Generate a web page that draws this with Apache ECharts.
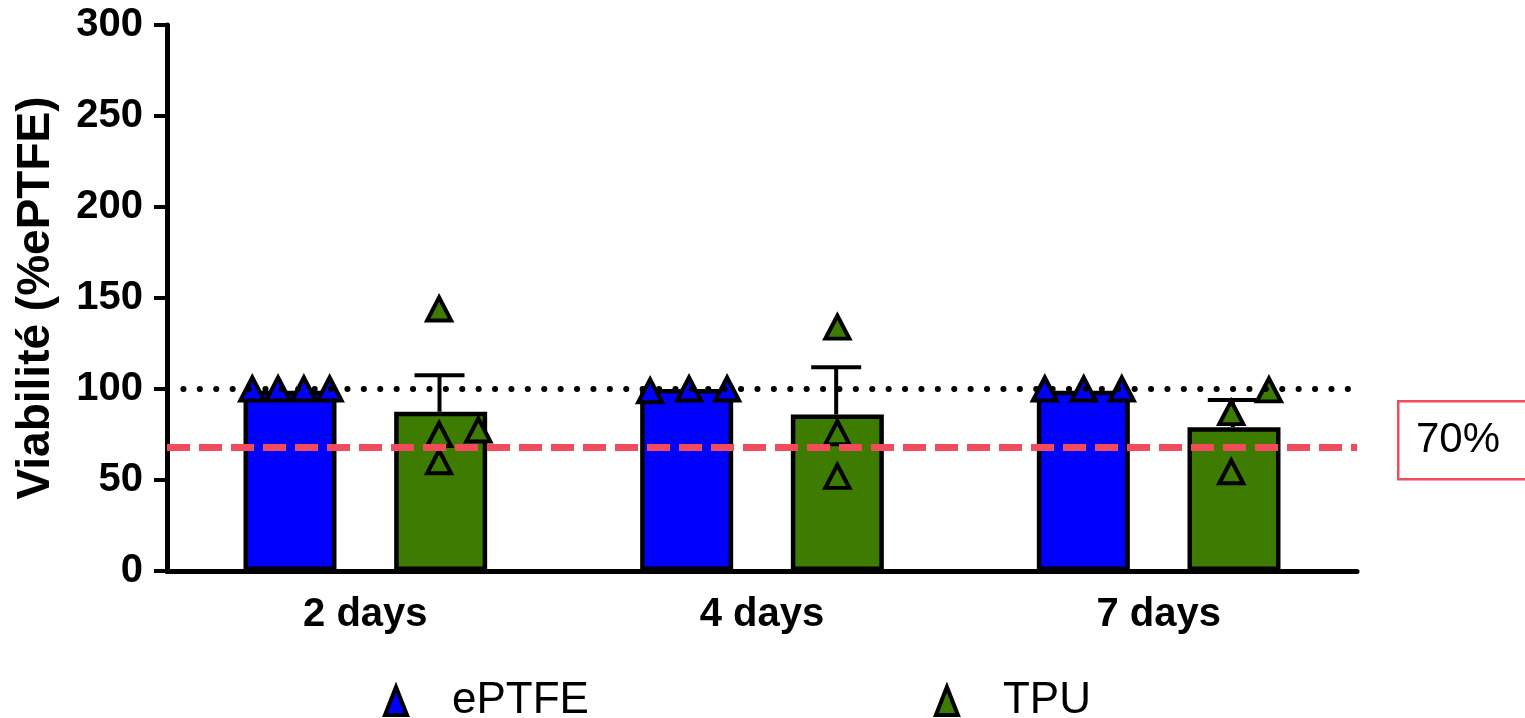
<!DOCTYPE html>
<html>
<head>
<meta charset="utf-8">
<script src="https://cdn.jsdelivr.net/npm/echarts@6/dist/echarts.min.js"></script>
<style>
  html, body { margin: 0; padding: 0; background: #fff; }
  #chart { width: 1525px; height: 718px; }
</style>
</head>
<body>
<div id="chart"></div>
<script>
var categories = ['2 days', '4 days', '7 days'];
var seriesNames = ['ePTFE', 'TPU'];
// bar heights (mean) and SEM
var eptfeMean = [99, 100, 99];
var tpuMean = [87.5, 86, 79];
var tpuSem = [20, 26, 15];
// individual replicates per category
var eptfePoints = [[100, 100, 100, 100], [99, 100, 100], [100, 100, 100]];
var tpuPoints = [[144, 75, 77.5, 60], [134, 76, 52], [87, 99.5, 54.5]];
// horizontal jitter of the replicates, as a fraction of a category
var eptfeJitter = [[-0.285, -0.22, -0.155, -0.09], [-0.282, -0.184, -0.088], [-0.287, -0.189, -0.093]];
var tpuJitter = [[0.186, 0.186, 0.285, 0.186], [0.19, 0.19, 0.19], [0.183, 0.278, 0.183]];
var yTicks = [0, 50, 100, 150, 200, 250, 300];
var refLine = 100;
var thresholdLine = 68;

var FONT = '"Liberation Sans", Arial, sans-serif';
var BLUE = '#0000ff';
var GREEN = '#3d7c00';
var RED = '#f34a5c';

function points(vals, jit) {
  var out = [];
  vals.forEach(function (arr, i) {
    arr.forEach(function (v, j) { out.push([i + 0.5 + jit[i][j], v]); });
  });
  return out;
}

var errData = tpuMean.map(function (m, i) { return [i + 0.5 + 0.187, m, tpuSem[i]]; });

var myChart = echarts.init(document.getElementById('chart'));
myChart.setOption({
  animation: false,
  grid: { left: 167, right: 168, top: 25, bottom: 147 },
  legend: {
    left: 378,
    top: 674,
    itemGap: 345,
    itemWidth: 22,
    itemHeight: 28,
    selectedMode: false,
    textStyle: { fontFamily: FONT, fontSize: 44, color: '#000', padding: [0, 0, 0, 40] },
    data: [
      { name: 'ePTFE', icon: 'triangle', itemStyle: { color: BLUE, borderColor: '#000', borderWidth: 4 } },
      { name: 'TPU', icon: 'triangle', itemStyle: { color: GREEN, borderColor: '#000', borderWidth: 4 } }
    ]
  },
  xAxis: [
    {
      type: 'category',
      data: categories,
      axisLine: { lineStyle: { color: '#000', width: 5 } },
      axisTick: { show: false },
      axisLabel: { color: '#000', fontFamily: FONT, fontWeight: 'bold', fontSize: 40, margin: 24 }
    },
    { type: 'value', min: 0, max: 3, show: false }
  ],
  yAxis: {
    type: 'value',
    min: yTicks[0],
    max: yTicks[yTicks.length - 1],
    interval: 50,
    name: 'Viabilité (%ePTFE)',
    nameLocation: 'middle',
    nameGap: 108,
    nameTextStyle: { color: '#000', fontFamily: FONT, fontWeight: 'bold', fontSize: 46 },
    splitLine: { show: false },
    axisLine: { show: true, lineStyle: { color: '#000', width: 5 } },
    axisTick: { show: true, length: 13, lineStyle: { color: '#000', width: 4 } },
    axisLabel: { color: '#000', fontFamily: FONT, fontWeight: 'bold', fontSize: 40, margin: 24 }
  },
  series: [
    {
      name: seriesNames[0],
      type: 'bar',
      data: eptfeMean,
      barWidth: 93,
      barGap: '62%',
      itemStyle: { color: BLUE, borderColor: '#000', borderWidth: 4.5 }
    },
    {
      name: seriesNames[1],
      type: 'bar',
      data: tpuMean,
      barWidth: 93,
      barGap: '62%',
      itemStyle: { color: GREEN, borderColor: '#000', borderWidth: 4.5 }
    },
    {
      name: 'SEM',
      type: 'custom',
      xAxisIndex: 1,
      data: errData,
      z: 3,
      renderItem: function (params, api) {
        var x = api.value(0), m = api.value(1), e = api.value(2);
        var base = api.coord([x, m]);
        var top = api.coord([x, m + e]);
        var st = { stroke: '#000', lineWidth: 4 };
        return {
          type: 'group',
          children: [
            { type: 'line', shape: { x1: base[0], y1: base[1], x2: top[0], y2: top[1] }, style: st },
            { type: 'line', shape: { x1: top[0] - 25, y1: top[1], x2: top[0] + 25, y2: top[1] }, style: st }
          ]
        };
      }
    },
    {
      name: seriesNames[0],
      type: 'scatter',
      xAxisIndex: 1,
      data: points(eptfePoints, eptfeJitter),
      symbol: 'triangle',
      symbolSize: [24, 23],
      z: 4,
      itemStyle: { color: BLUE, borderColor: '#000', borderWidth: 4, opacity: 1 },
      markLine: {
        silent: true,
        symbol: 'none',
        label: { show: false },
        lineStyle: { color: '#000', width: 6, type: [0.1, 16.3], cap: 'round' },
        data: [{ yAxis: refLine }]
      }
    },
    {
      name: seriesNames[1],
      type: 'scatter',
      xAxisIndex: 1,
      data: points(tpuPoints, tpuJitter),
      symbol: 'triangle',
      symbolSize: [24, 23],
      z: 4,
      itemStyle: { color: GREEN, borderColor: '#000', borderWidth: 4, opacity: 1 },
      markLine: {
        silent: true,
        symbol: 'none',
        label: { show: false },
        lineStyle: { color: RED, width: 7, type: [23, 9] },
        data: [{ yAxis: thresholdLine }]
      }
    }
  ],
  graphic: [
    {
      type: 'rect',
      left: 1397,
      top: 400,
      shape: { width: 150, height: 78 },
      style: { fill: '#fff', stroke: RED, lineWidth: 2.5 }
    },
    {
      type: 'text',
      left: 1416,
      top: 419,
      style: { text: '70%', fill: '#000', font: '42px ' + FONT }
    }
  ]
});
</script>
</body>
</html>
